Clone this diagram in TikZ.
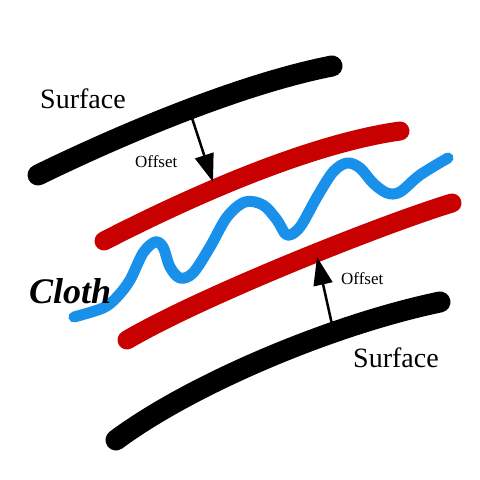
\documentclass[tikz,border=0pt]{standalone}
\usepackage{fontspec}
\setmainfont{Liberation Serif}
\usetikzlibrary{arrows.meta}
\definecolor{surfblack}{RGB}{0,0,0}
\definecolor{offred}{RGB}{200,0,0}
\definecolor{clothblue}{RGB}{25,145,235}
\tikzset{
  surf/.style={line width=21pt, line cap=round, line join=round, color=surfblack},
  offs/.style={line width=19pt, line cap=round, line join=round, color=offred},
  clothline/.style={line width=11pt, line cap=round, line join=round, color=clothblue},
  offarrow/.style={line width=2.5pt, -{Triangle[length=28pt,width=19pt]}},
  lbl/.style={inner sep=0pt, font=\fontsize{28}{30}\selectfont},
  offlbl/.style={inner sep=0pt, font=\fontsize{17}{19}\selectfont},
}
\begin{document}
\begin{tikzpicture}[x=1pt,y=-1pt]
\useasboundingbox (0,0) rectangle (480,480);
% surfaces
\draw[surf] (38,175) .. controls (120,135) and (240,84) .. (332,66);
\draw[surf] (116,440) .. controls (190,385) and (330,325) .. (440,302);
% offset lines
\draw[offs] (104,241) .. controls (170,207) and (300,145) .. (400,131);
\draw[offs] (127,340) .. controls (200,297) and (380,225) .. (452,203);
% cloth
\draw[clothline] plot[smooth, tension=0.55] coordinates {(74,317) (103,308) (117,297) (130,280) (143,253) (155,242) (163,247) (170,267) (180,278) (193,273) (210,247) (227,217) (245,202) (263,205) (277,220) (287,235) (300,227) (317,197) (333,172) (347,163) (360,168) (373,183) (387,193) (400,192) (420,175) (448,158)};
% arrows
\coordinate (a1s) at (190,112);
\coordinate (a1e) at (213,182);
\coordinate (a2s) at (333,329);
\coordinate (a2e) at (317,257);
\draw[offarrow] (a1s) -- (a1e);
\draw[offarrow] (a2s) -- (a2e);
% labels
\node[lbl, anchor=base west] (s1) at (40,108) {Surface};
\node[lbl, anchor=base west] (s2) at (353,367) {Surface};
\node[offlbl, anchor=base west] (o1) at (135,167) {Offset};
\node[offlbl, anchor=base west] (o2) at (341,284) {Offset};
\node[inner sep=0pt, anchor=base west, font=\fontsize{36}{38}\selectfont\bfseries\itshape] (cl) at (29,303) {Cloth};
\end{tikzpicture}
\end{document}
